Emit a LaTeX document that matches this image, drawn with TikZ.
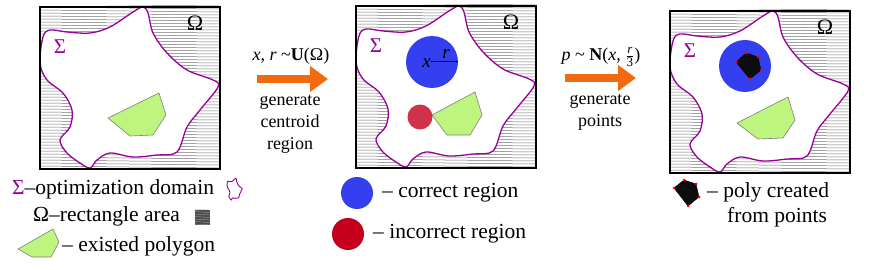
\documentclass[tikz,border=0pt]{standalone}
\usepackage{fontspec}
\setmainfont{Liberation Serif}
\usetikzlibrary{arrows.meta}
\definecolor{sig}{HTML}{990099}
\definecolor{cblue}{HTML}{3440F0}
\definecolor{cred}{HTML}{C4001C}
\definecolor{cgreen}{HTML}{BDF57F}
\definecolor{corange}{HTML}{F26A10}
\tikzset{
  hatch/.style={draw=black!55, line width=0.5pt},
  sigline/.style={draw=sig, line width=1.3pt},
  sigtext/.style={text=sig, font=\fontsize{21}{21}\selectfont, inner sep=0},
  omtext/.style={text=black, font=\fontsize{22}{22}\selectfont, inner sep=0},
  boxframe/.style={draw=black, line width=1.6pt, minimum width=180pt, minimum height=162pt, anchor=north west, inner sep=0},
  greenpoly/.style={fill=cgreen, draw=gray, line width=0.6pt},
  bigarrow/.style={draw=corange, line width=8pt, -{Triangle[length=18pt,width=25pt]}},
  arrlabel/.style={font=\fontsize{18}{21}\selectfont, inner sep=0, align=center},
  legtext/.style={font=\fontsize{21.5}{25}\selectfont, inner sep=0, anchor=west}
}
\newcommand\sigpath{plot[smooth cycle,tension=0.55] coordinates {(104,1)(94,6)(71,21)(51,27)(28,26)(11,24)(4,31)(1,57)(8,74)(24,87)(33,104)(31,121)(21,134)(28,147)(41,157)(51,162)(58,154)(71,147)(94,151)(118,149)(138,146)(148,121)(161,104)(179,81)(174,74)(148,64)(128,47)(114,27)(109,7)}}
\newcommand\drawpanel[2]{%
\begin{scope}[shift={#1}]
\begin{scope}
\clip (0,0) rectangle (180,162);
\foreach \i in {-8,-5,...,168} \draw[hatch] (0,\i) -- (180,\i+2);
\end{scope}
\fill[white] \sigpath;
\draw[sigline] \sigpath;
\node[boxframe] (#2) at (0,0) {};
\node[sigtext] (#2s) at (21,41) {Σ};
\node[omtext] (#2o) at (156,17) {Ω};
\end{scope}}
\newcommand\smallfr[2]{\frac{\mbox{\fontsize{13}{13}\selectfont #1}}{\mbox{\fontsize{13}{13}\selectfont #2}}}
\begin{document}
\begin{tikzpicture}[x=1pt,y=-1pt]
\useasboundingbox (0,0) rectangle (871,270);
% panels
\drawpanel{(39,6)}{p1}
\drawpanel{(355,5)}{p2}
\drawpanel{(669,10)}{p3}
% panel 1 polygon
\draw[greenpoly] (108,118) -- (159,93) -- (166,115) -- (153,135) -- (130,136) -- cycle;
% panel 2
\draw[greenpoly] (432,115) -- (475,92) -- (482,115) -- (470,135) -- (447,135) -- cycle;
\node[circle, fill=cblue, minimum size=52pt, inner sep=0] (bc2) at (432,62) {};
\node[circle, fill=cred, fill opacity=0.8, minimum size=25pt, inner sep=0] (rc2) at (420,117) {};
\node[font=\fontsize{19}{19}\selectfont\itshape, inner sep=0, anchor=east] (x2) at (431,63) {x};
\coordinate (xs2) at (431,61);
\coordinate (re2) at (458,61);
\draw[line width=0.8pt] (xs2) -- (re2);
\node[font=\fontsize{19}{19}\selectfont\itshape, inner sep=0, anchor=south] (r2) at (446,59) {r};
% panel 3
\node[circle, fill=cblue, minimum size=52pt, inner sep=0] (bc3) at (745,66) {};
\draw[fill=black!95, draw=black] (746,53) coordinate (q1) -- (758,57) coordinate (q2) -- (761,70) coordinate (q3) -- (750,79) coordinate (q4) -- (736,62) coordinate (q5) -- cycle;
\foreach \q in {q1,q2,q3,q4,q5} \fill[red] (\q) circle (1.5);
\draw[greenpoly] (737,123) -- (788,97) -- (795,120) -- (783,138) -- (758,139) -- cycle;
% arrows
\coordinate (a1s) at (257,79);
\coordinate (a1e) at (328,79);
\draw[bigarrow] (a1s) -- (a1e);
\node[arrlabel] (l1) at (291,56) {\textit{x}, \textit{r} \textasciitilde\textbf{U}(Ω)};
\node[arrlabel, anchor=north] (l1b) at (290,95) {generate\\[1pt]centroid\\[1pt]region};
\coordinate (a2s) at (565,78);
\coordinate (a2e) at (636,78);
\draw[bigarrow] (a2s) -- (a2e);
\node[arrlabel] (l2) at (601,57) {\textit{p} \textasciitilde\ \textbf{N}(\textit{x}, $\smallfr{\itshape r}{3}$)};
\node[arrlabel, anchor=north] (l2b) at (600,94) {generate\\[1pt]points};
% legend 1
\node[legtext] (lg1) at (12,189) {\textcolor{sig}{Σ}–optimization domain};
\begin{scope}[shift={(227,178)}, xscale=0.085, yscale=0.135]
\draw[sig, line width=0.9pt] \sigpath;
\end{scope}
\node[legtext] (lg2) at (33,216) {Ω–rectangle area};
\node[fill=black!70, minimum size=15pt, inner sep=0] (sq) at (202,217) {};
\begin{scope}
\clip (sq.south west) rectangle (sq.north east);
\foreach \i in {209,211.5,...,226} \draw[gray!60, line width=0.3pt] (194,\i) -- (210,\i+1);
\end{scope}
\draw[greenpoly] (18,249) -- (53,229) -- (59,242) -- (51,257) -- (32,257) -- cycle;
\node[legtext] (lg3) at (62,246) {– existed polygon};
% legend 2
\node[circle, fill=cblue, minimum size=32pt, inner sep=0] (lbc) at (357,193) {};
\node[legtext] (lg4) at (382,193) {– correct region};
\node[circle, fill=cred, minimum size=32pt, inner sep=0] (lrc) at (348,234) {};
\node[legtext] (lg5) at (373,234) {– incorrect region};
% legend 3
\draw[fill=black!95, draw=black] (684,180) coordinate (k1) -- (696,184) coordinate (k2) -- (699,197) coordinate (k3) -- (688,206) coordinate (k4) -- (674,188) coordinate (k5) -- cycle;
\foreach \q in {k1,k2,k3,k4,k5} \fill[red] (\q) circle (1.5);
\node[legtext] (lg6) at (707,192) {– poly created};
\node[legtext] (lg7) at (727,217) {from points};
\end{tikzpicture}
\end{document}
